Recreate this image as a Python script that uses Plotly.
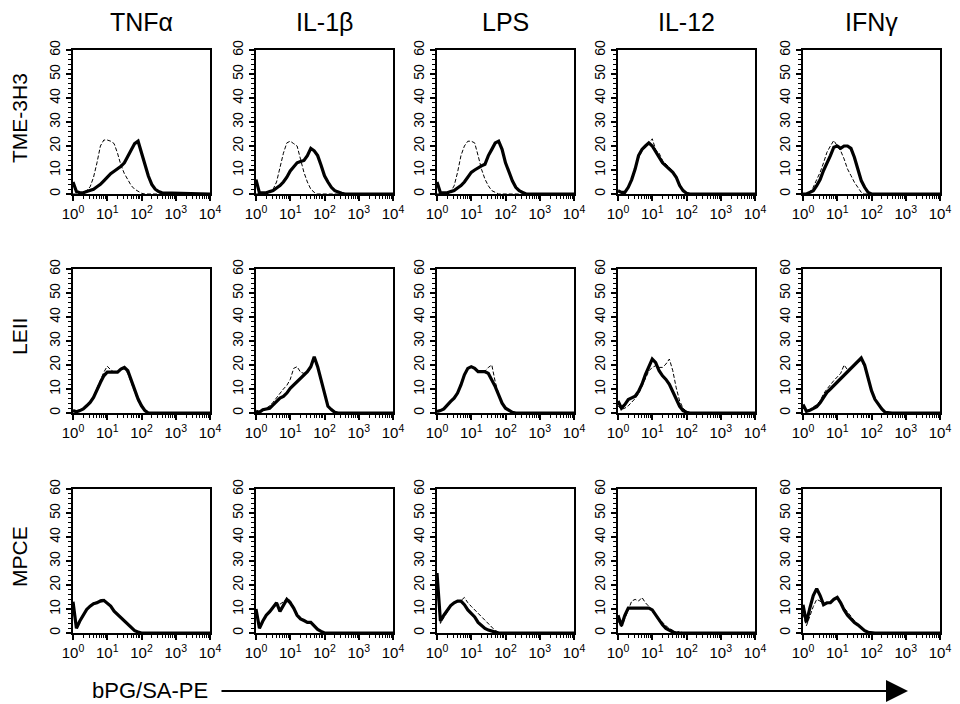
import plotly.graph_objects as go

# ---------------- data ----------------
stimuli = ["TNFα", "IL-1β", "LPS", "IL-12", "IFNγ"]
cell_lines = ["TME-3H3", "LEII", "MPCE"]
x_axis_label = "bPG/SA-PE"
decade_ticks = [1, 10, 100, 1000, 10000]
decade_labels = ["10<sup>0</sup>", "10<sup>1</sup>", "10<sup>2</sup>", "10<sup>3</sup>", "10<sup>4</sup>"]
y_ticks = [0, 10, 20, 30, 40, 50, 60]

# fluorescence channel (log10 units)
channel_log10 = [0.0, 0.1, 0.2, 0.3, 0.4, 0.5, 0.6, 0.7, 0.8, 0.9,
                 1.0, 1.1, 1.2, 1.3, 1.4, 1.5, 1.6, 1.7, 1.8, 1.9,
                 2.0, 2.1, 2.2, 2.3, 2.4, 2.5, 2.6, 4.0]

# TME-3H3
tme_tnf_solid = [5, 1, 0.5, 0.5, 1, 1.5, 2, 3, 4, 5.5, 7, 8.5, 9.5, 10.5, 11.5, 13, 15.5, 18.5, 21, 22, 17, 12, 7.5, 4, 2, 1, 0.5, 0]
tme_tnf_dash = [0, 0, 0, 0.5, 1.5, 3, 7, 13, 20, 22.5, 22.5, 22, 21, 17, 12, 8.5, 6, 3.5, 2, 1, 0.3, 0, 0, 0, 0, 0, 0, 0]
tme_il1_solid = [6, 0.5, 0.5, 0.5, 1, 1.4, 2.5, 3.5, 5, 7, 9.6, 11.5, 13, 13.5, 14, 16, 19, 18, 16, 12, 7.6, 5, 2.8, 1.4, 0.7, 0.3, 0, 0]
tme_il1_dash = [0, 0, 0, 0.3, 0.8, 2, 5, 11.7, 17, 21.3, 22, 21, 20, 14.5, 9, 5, 2, 0.7, 0, 0, 0, 0, 0, 0, 0, 0, 0, 0]
tme_lps_solid = [5, 0.5, 0.5, 0.5, 1, 1.4, 2.5, 3.5, 5, 7, 9, 10, 11, 11.7, 12.4, 16, 18.6, 21.3, 22, 18.6, 13, 9, 5.5, 2.8, 1.4, 0.7, 0, 0]
tme_lps_dash = [0, 0, 0, 0.3, 1, 3.4, 9, 16, 20, 22, 22, 21.3, 16, 10.3, 6.2, 3.4, 1.4, 0.7, 0, 0, 0, 0, 0, 0, 0, 0, 0, 0]
tme_il12_solid = [1.4, 0.7, 0.7, 2.8, 6, 10.4, 16, 18.6, 20, 21.3, 20, 17.4, 15.3, 13, 11.7, 10.4, 9, 7, 3.5, 1.4, 0.3, 0, 0, 0, 0, 0, 0, 0]
tme_il12_dash = [1, 0.5, 0.8, 2.5, 5.5, 10, 15, 18, 19.5, 21, 23, 18.5, 17, 14, 12.5, 11, 9.5, 7, 4, 1.5, 0.3, 0, 0, 0, 0, 0, 0, 0]
tme_ifn_solid = [0, 0, 0.7, 1.4, 3.5, 6, 9.8, 12.6, 16, 19.5, 20, 19, 20, 20, 19, 15.3, 10.4, 5.6, 2.8, 0.7, 0, 0, 0, 0, 0, 0, 0, 0]
tme_ifn_dash = [0, 0, 0.7, 2.8, 6, 9, 13, 17.4, 20, 22.3, 20, 18, 14.6, 10.4, 7.7, 4.9, 2.8, 0.7, 0, 0, 0, 0, 0, 0, 0, 0, 0, 0]

# LEII
le_tnf_solid = [1, 0.5, 1, 1.7, 3, 4.4, 6.5, 10, 12.7, 15.5, 17, 17, 17, 17, 18.3, 19, 17.6, 13.4, 9.3, 5.8, 3, 1, 0, 0, 0, 0, 0, 0]
le_tnf_dash = [0.5, 0.5, 1, 2, 3.5, 5, 7, 10.5, 14, 17, 19.5, 18, 17, 17, 18, 18.5, 16.5, 12.5, 8.5, 5, 2.5, 0.8, 0, 0, 0, 0, 0, 0]
le_il1_solid = [0.7, 0.3, 1.4, 1.7, 2, 3.4, 4.8, 6.2, 6.9, 8.3, 10.3, 11.7, 13, 14.5, 15.9, 17.2, 19.3, 23.4, 19.3, 13.8, 8.3, 2.8, 1.4, 0.3, 0, 0, 0, 0]
le_il1_dash = [0.5, 0.5, 1, 2, 3, 4.5, 6.5, 8.5, 10, 11.5, 14, 18.6, 19.3, 17, 16.5, 17, 19, 22, 19, 13, 8, 3, 1, 0, 0, 0, 0, 0]
le_lps_solid = [0.7, 1, 1.7, 3.4, 4.8, 6.2, 8.3, 11.7, 15.9, 18.6, 19.3, 18.6, 17.2, 17.2, 17.2, 16.5, 13.8, 11, 7.6, 4.1, 2, 1, 0.3, 0, 0, 0, 0, 0]
le_lps_dash = [0.5, 1, 2, 3.5, 5, 6.5, 8.5, 12, 16, 18.5, 19.5, 18.5, 17.5, 17.5, 17.5, 19, 20, 13, 8, 4.5, 2, 0.8, 0, 0, 0, 0, 0, 0]
le_il12_solid = [5, 2, 3.5, 5.6, 6.3, 7, 9, 12, 16, 19, 22.5, 21, 17.6, 15.5, 14, 12, 9, 5.6, 2.8, 1, 0.3, 0, 0, 0, 0, 0, 0, 0]
le_il12_dash = [3, 1.5, 2, 3, 4.5, 6, 8, 11, 14, 17.5, 19, 19.7, 19, 19, 20.4, 22.5, 17.6, 10.5, 5, 2, 0.7, 0, 0, 0, 0, 0, 0, 0]
le_ifn_solid = [3.5, 0.7, 1.1, 1.7, 2.6, 4.3, 6.4, 8.6, 10, 11.4, 12.9, 14.3, 15.7, 17.1, 18.6, 20, 21.4, 22.9, 20, 14.3, 9.3, 5.7, 3.6, 1.7, 0.3, 0, 0, 0]
le_ifn_dash = [2, 1, 1.5, 2.5, 3.5, 5, 8, 10, 12, 13.5, 15, 16.5, 20, 18, 19, 20, 21, 22, 19, 14, 9, 5.5, 3.5, 1.5, 0.3, 0, 0, 0]

# MPCE
mp_tnf_solid = [13, 2, 5, 7.7, 9.8, 11.2, 12.2, 12.6, 13.3, 13.6, 12.6, 11.2, 9.1, 7.7, 6.3, 4.9, 3.5, 2.1, 1, 0.4, 0, 0, 0, 0, 0, 0, 0, 0]
mp_tnf_dash = [10, 2.5, 5.5, 8, 10, 11.5, 12.5, 13, 13.8, 14.2, 13, 11.5, 9.5, 8, 6.5, 5, 3.5, 2, 1, 0.3, 0, 0, 0, 0, 0, 0, 0, 0]
mp_il1_solid = [10, 2, 5, 7.4, 8.9, 11, 12.6, 9, 11.8, 14, 12.6, 10.4, 7.4, 5.9, 5.2, 4.4, 4.4, 3, 1.5, 0.7, 0, 0, 0, 0, 0, 0, 0, 0]
mp_il1_dash = [8, 2, 5, 7.5, 9, 10, 12, 12, 13, 14.5, 13.5, 11, 8, 6.5, 5.5, 4.5, 4, 3, 1.5, 0.5, 0, 0, 0, 0, 0, 0, 0, 0]
mp_lps_solid = [25, 5, 7.4, 9.6, 11.4, 12.6, 13.3, 13.3, 11.8, 9.6, 8.1, 6.7, 4.4, 3, 1.9, 1.2, 0.7, 0.4, 0, 0, 0, 0, 0, 0, 0, 0, 0, 0]
mp_lps_dash = [20, 4, 6.5, 9, 11, 12.5, 13, 13.5, 14.8, 12.6, 11.1, 9.6, 8.1, 6.7, 5.2, 3.7, 2.2, 1, 0.4, 0, 0, 0, 0, 0, 0, 0, 0, 0]
mp_il12_solid = [7.4, 3, 7.4, 10.4, 10.4, 10.4, 10.4, 10.4, 10.4, 10.4, 9.6, 7.4, 5.2, 3.4, 1.9, 1, 0.4, 0, 0, 0, 0, 0, 0, 0, 0, 0, 0, 0]
mp_il12_dash = [5, 2.5, 6, 10, 13.3, 14, 13.3, 14.8, 12.6, 11.1, 8.9, 7.4, 5.9, 4.4, 3, 1.9, 1, 0.3, 0.7, 0, 0, 0, 0, 0, 0, 0, 0, 0]
mp_ifn_solid = [11.8, 4.4, 10.4, 15.6, 18.5, 15.6, 11.8, 12.6, 12.6, 14, 14.8, 12.6, 9.6, 7.4, 5.9, 4.4, 3.4, 2.2, 1, 0.3, 0, 0, 0, 0, 0, 0, 0, 0]
mp_ifn_dash = [8, 3, 7, 11, 14, 13.3, 11.8, 12, 13, 14, 14.5, 13, 10.5, 8.9, 7, 5, 3.5, 2, 1, 0.3, 0, 0, 0, 0, 0, 0, 0, 0]

solid_series = [
    [tme_tnf_solid, tme_il1_solid, tme_lps_solid, tme_il12_solid, tme_ifn_solid],
    [le_tnf_solid, le_il1_solid, le_lps_solid, le_il12_solid, le_ifn_solid],
    [mp_tnf_solid, mp_il1_solid, mp_lps_solid, mp_il12_solid, mp_ifn_solid],
]
dash_series = [
    [tme_tnf_dash, tme_il1_dash, tme_lps_dash, tme_il12_dash, tme_ifn_dash],
    [le_tnf_dash, le_il1_dash, le_lps_dash, le_il12_dash, le_ifn_dash],
    [mp_tnf_dash, mp_il1_dash, mp_lps_dash, mp_il12_dash, mp_ifn_dash],
]

# ---------------- layout ----------------
# The page body adds an 8px margin, so target page pixels are shifted back by OFF.
OFF = 8
W, H = 960, 704
col_left = [73, 256, 437, 618, 803]
panel_w = 137
row_top = [50, 269, 489]
panel_h = 144


def px(x):
    return (x - OFF) / W


def py(y):
    return 1 - (y - OFF) / H


xtick_font = dict(family="Liberation Sans Narrow, Arial Narrow, Liberation Sans, Arial", size=15, color="black")
ytick_font = dict(family="Liberation Sans Narrow, Arial Narrow, Liberation Sans, Arial", size=14, color="black")
title_font = dict(family="Liberation Sans, Arial, Helvetica", size=25, color="black")
label_font = dict(family="Liberation Sans, Arial, Helvetica", size=22, color="black")
row_font = dict(family="Liberation Sans, Arial, Helvetica", size=21, color="black")

minor_x = [m * 10 ** k for k in range(4) for m in range(2, 10)]
x_vals = [10 ** b for b in channel_log10]

fig = go.Figure()
layout = dict(
    width=W, height=H,
    margin=dict(l=0, r=0, t=0, b=0),
    paper_bgcolor="white", plot_bgcolor="white",
    showlegend=False,
)

for r in range(3):
    for c in range(5):
        k = r * 5 + c + 1
        xa = "x" if k == 1 else f"x{k}"
        ya = "y" if k == 1 else f"y{k}"
        fig.add_trace(go.Scatter(
            x=x_vals, y=dash_series[r][c], xaxis=xa, yaxis=ya, mode="lines",
            line=dict(color="black", width=1, dash="4px,2px"), hoverinfo="skip"))
        fig.add_trace(go.Scatter(
            x=x_vals, y=solid_series[r][c], xaxis=xa, yaxis=ya, mode="lines",
            line=dict(color="black", width=3.2), hoverinfo="skip"))
        xkey = "xaxis" if k == 1 else f"xaxis{k}"
        ykey = "yaxis" if k == 1 else f"yaxis{k}"
        layout[xkey] = dict(
            domain=[px(col_left[c]), px(col_left[c] + panel_w)], anchor=ya, type="log", range=[0, 4],
            tickvals=decade_ticks, ticktext=decade_labels, tickfont=xtick_font,
            ticks="outside", ticklen=5, tickwidth=1.5, tickcolor="black",
            minor=dict(tickvals=minor_x, ticks="outside", ticklen=3, tickwidth=1, tickcolor="black"),
            showline=True, linecolor="black", linewidth=2, mirror=True,
            showgrid=False, zeroline=False, fixedrange=True, automargin=False,
        )
        layout[ykey] = dict(
            domain=[py(row_top[r] + panel_h), py(row_top[r])], anchor=xa, range=[0, 60],
            tickvals=y_ticks, tickfont=ytick_font, tickangle=-90,
            ticks="outside", ticklen=5, tickwidth=1.5, tickcolor="black",
            minor=dict(dtick=2, ticks="outside", ticklen=3, tickwidth=1, tickcolor="black"),
            showline=True, linecolor="black", linewidth=2, mirror=True,
            showgrid=False, zeroline=False, fixedrange=True, automargin=False,
        )

annotations = []
for c, name in enumerate(stimuli):
    annotations.append(dict(
        text=name, x=px(col_left[c] + panel_w / 2), y=py(22),
        xref="paper", yref="paper", showarrow=False, font=title_font,
        xanchor="center", yanchor="middle"))
for r, name in enumerate(cell_lines):
    annotations.append(dict(
        text=name, x=px(19), y=py(row_top[r] + panel_h / 2 - 4),
        xref="paper", yref="paper", showarrow=False, font=row_font, textangle=-90,
        xanchor="center", yanchor="middle"))
annotations.append(dict(
    text=x_axis_label, x=px(150), y=py(690), xref="paper", yref="paper",
    showarrow=False, font=label_font, xanchor="center", yanchor="middle"))
annotations.append(dict(
    text="", x=px(908), y=py(691), xref="paper", yref="paper",
    showarrow=True, ax=-688, ay=0, axref="pixel", ayref="pixel",
    arrowhead=2, arrowsize=2.2, arrowwidth=2, arrowcolor="black"))
layout["annotations"] = annotations

fig.update_layout(**layout)
fig.write_html("out.html")
